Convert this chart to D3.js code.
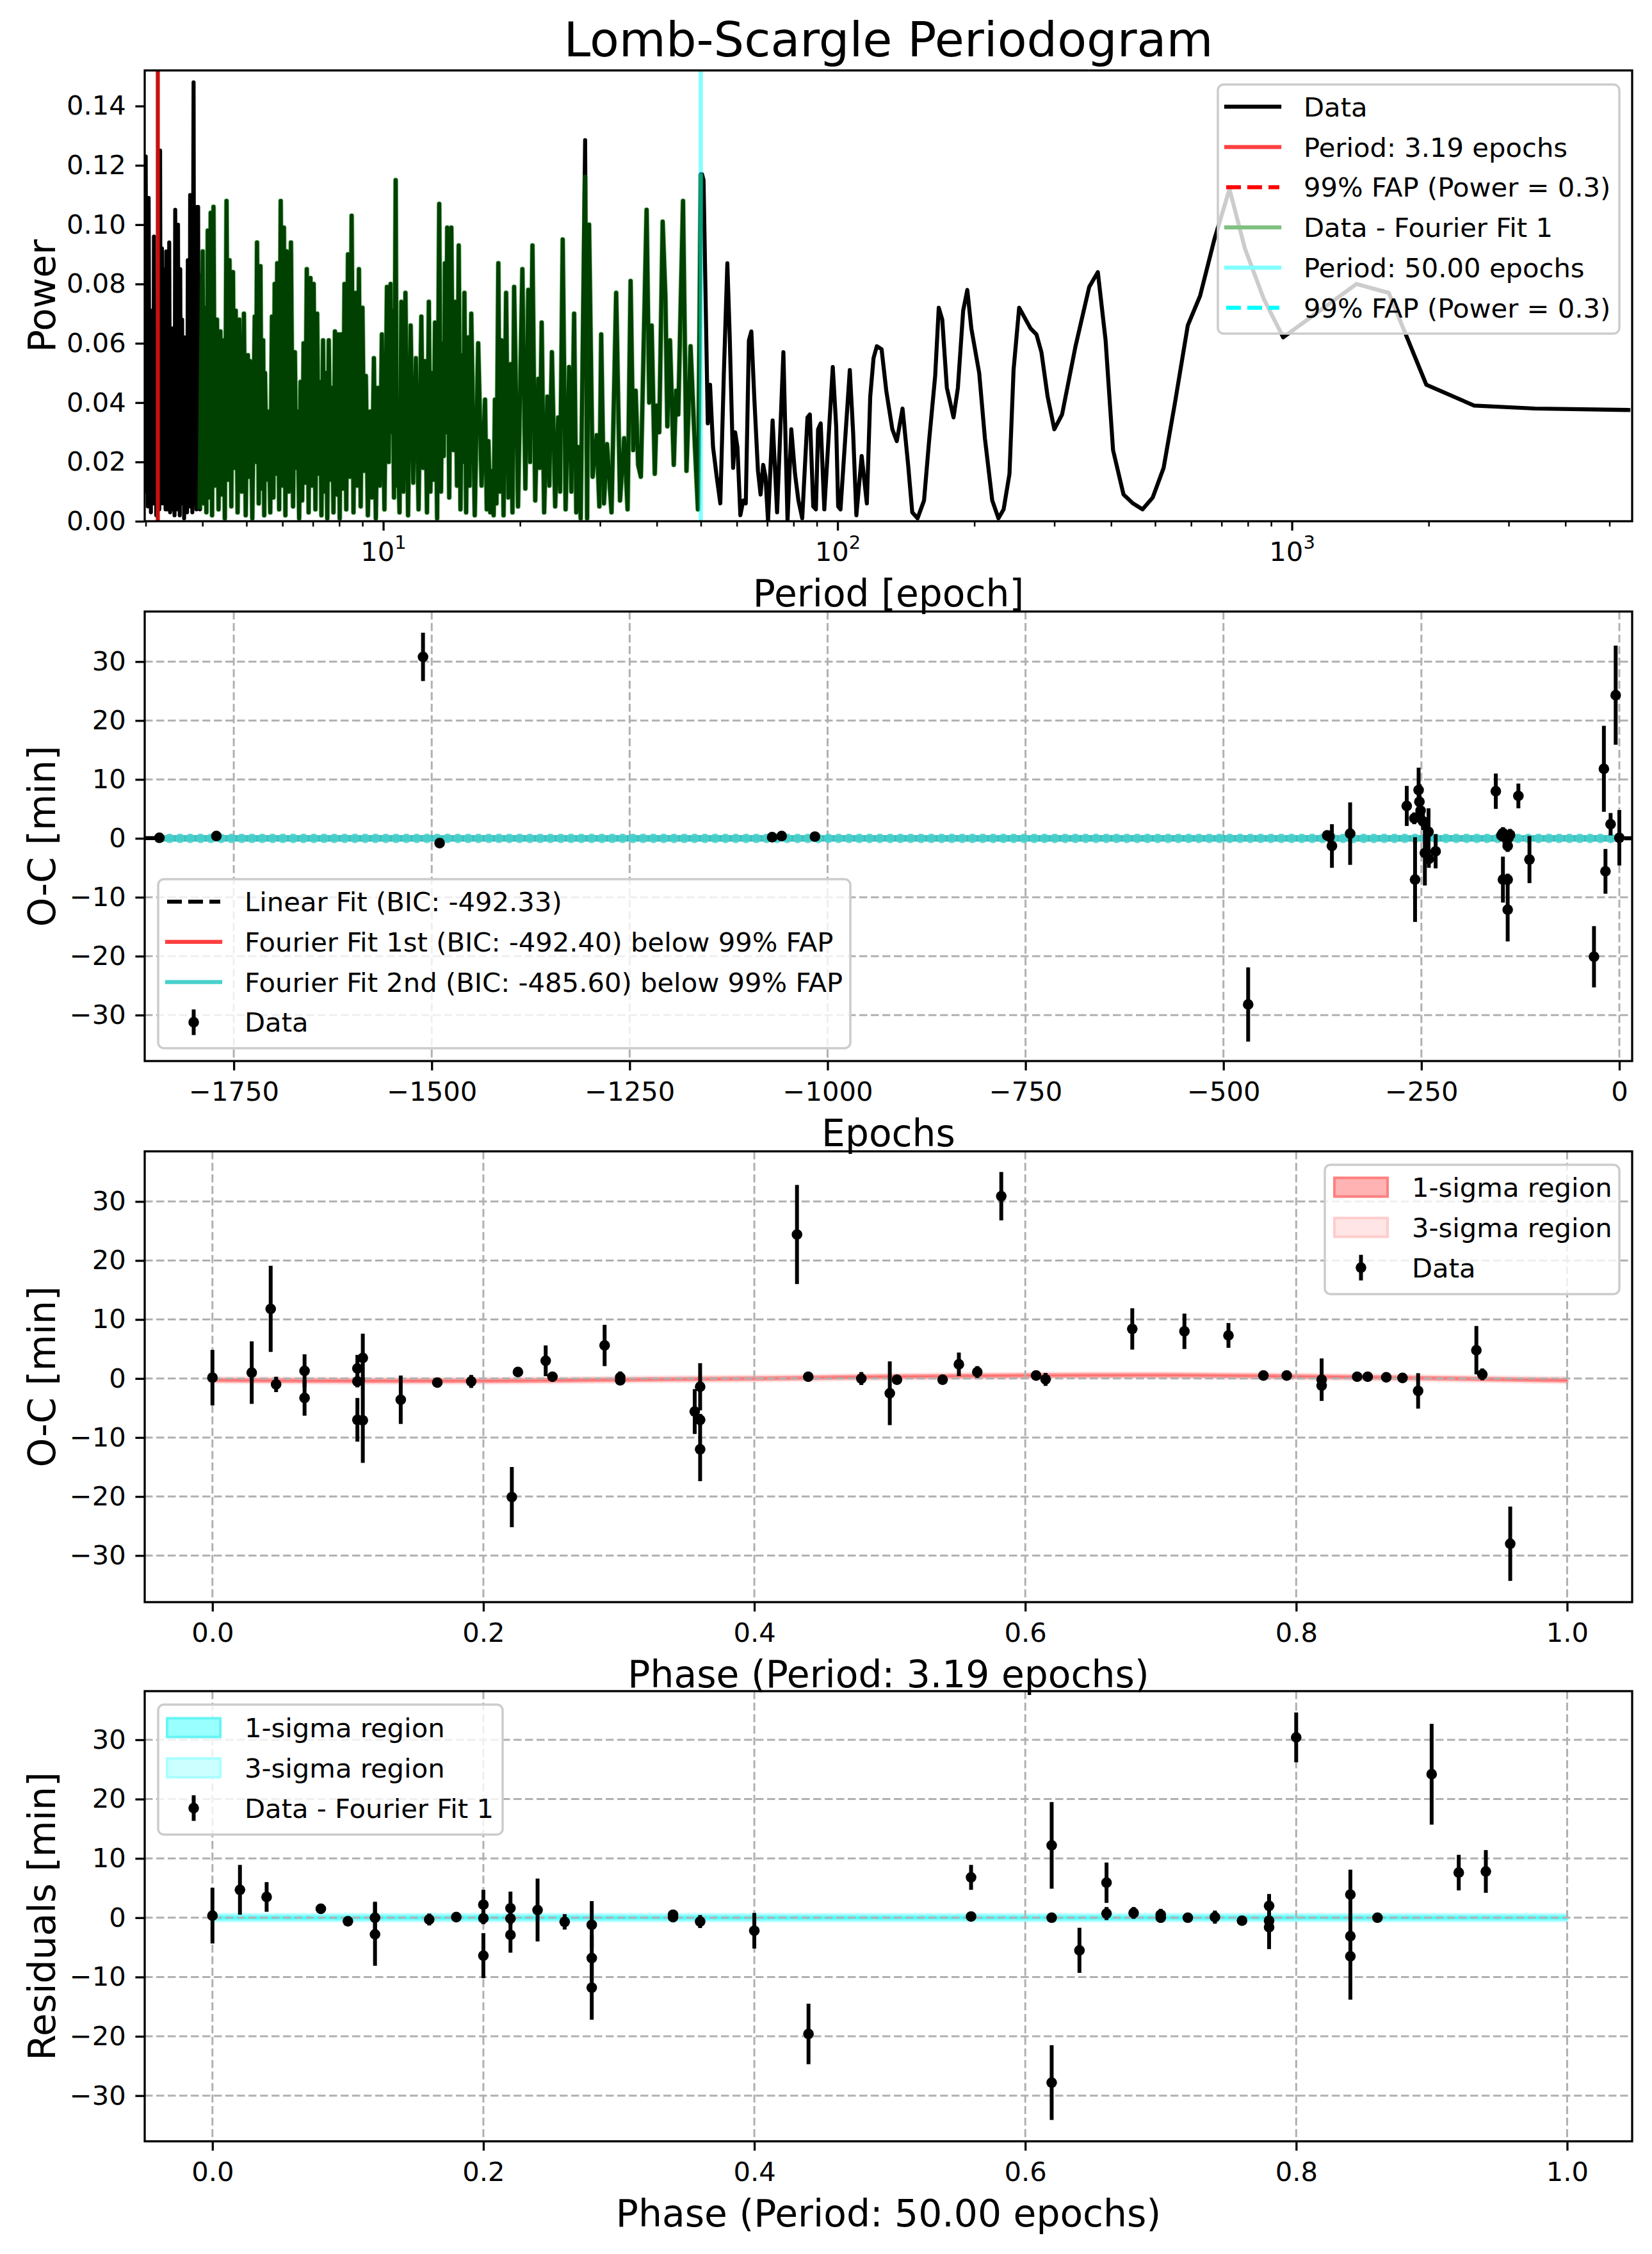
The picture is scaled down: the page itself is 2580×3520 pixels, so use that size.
<!DOCTYPE html>
<html>
<head>
<meta charset="utf-8">
<script src="https://cdn.jsdelivr.net/npm/d3@7"></script>
<style>body{margin:0;background:#fff}</style>
</head>
<body>
<div id="chart"></div>
<script>
// ---------- data ----------

// periodogram of the data, short periods (black only)
const powerLow = [
  [2.985,0.115],[2.992,0.010],[3.00,0.123],[3.012,0.030],[3.022,0.075],[3.033,0.005],[3.045,0.109],
  [3.058,0.020],[3.068,0.060],[3.08,0.003],[3.091,0.071],[3.10,0.030],[3.11,0.064],[3.12,0.006],
  [3.128,0.096],[3.14,0.015],[3.155,0.055],[3.165,0.002],[3.175,0.040],[3.188,0.010],[3.20,0.060],
  [3.213,0.004],[3.227,0.125],[3.24,0.008],[3.258,0.092],[3.272,0.006],[3.287,0.085],[3.298,0.012],
  [3.31,0.070],[3.318,0.004],[3.33,0.091],[3.345,0.004],[3.36,0.060],[3.368,0.010],[3.38,0.094],
  [3.395,0.003],[3.41,0.050],[3.42,0.008],[3.432,0.065],[3.446,0.004],[3.46,0.058],[3.472,0.002],
  [3.484,0.105],[3.497,0.010],[3.51,0.070],[3.52,0.004],[3.534,0.100],[3.545,0.012],[3.556,0.060],
  [3.565,0.002],[3.574,0.085],[3.59,0.006],[3.608,0.068],[3.62,0.020],[3.634,0.058],[3.645,0.001],
  [3.659,0.062],[3.673,0.015],[3.69,0.060],[3.70,0.003],[3.714,0.088],[3.726,0.012],[3.74,0.082],
  [3.748,0.005],[3.758,0.110],[3.772,0.020],[3.785,0.060],[3.80,0.003],[3.824,0.148],[3.838,0.006],
  [3.852,0.070],[3.86,0.010],[3.867,0.106],[3.88,0.004],[3.895,0.075],[3.905,0.008],[3.913,0.106],
  [3.925,0.020],[3.935,0.060],[3.945,0.083]
];

// 3.95 - 50 epochs: data and (data - Fourier fit 1) lie on top of each other here
const powerMid = [
  [3.95,0.004],[4.005,0.091],[4.03,0.006],[4.06,0.072],[4.08,0.003],[4.109,0.098],[4.14,0.008],
  [4.171,0.104],[4.20,0.002],[4.23,0.106],[4.26,0.012],[4.305,0.068],[4.34,0.004],[4.38,0.064],
  [4.41,0.009],[4.446,0.061],[4.48,0.001],[4.519,0.108],[4.55,0.014],[4.588,0.088],[4.63,0.005],
  [4.669,0.084],[4.70,0.018],[4.734,0.071],[4.78,0.003],[4.823,0.068],[4.88,0.010],[4.935,0.070],
  [4.98,0.002],[5.035,0.056],[5.06,0.015],[5.094,0.054],[5.15,0.001],[5.213,0.069],[5.24,0.020],
  [5.274,0.094],[5.32,0.006],[5.367,0.086],[5.40,0.011],[5.441,0.061],[5.47,0.002],[5.492,0.050],
  [5.54,0.014],[5.588,0.037],[5.64,0.003],[5.689,0.069],[5.73,0.008],[5.768,0.080],[5.80,0.016],
  [5.843,0.087],[5.90,0.004],[5.947,0.108],[6.00,0.012],[6.044,0.099],[6.09,0.002],[6.135,0.091],
  [6.20,0.010],[6.264,0.094],[6.33,0.005],[6.39,0.057],[6.43,0.018],[6.479,0.037],[6.53,0.001],
  [6.577,0.047],[6.63,0.007],[6.678,0.060],[6.73,0.013],[6.787,0.085],[6.85,0.003],[6.915,0.082],
  [6.97,0.012],[7.028,0.080],[7.09,0.004],[7.153,0.070],[7.21,0.016],[7.261,0.047],[7.31,0.002],
  [7.37,0.061],[7.42,0.010],[7.472,0.050],[7.53,0.001],[7.588,0.061],[7.65,0.014],[7.712,0.045],
  [7.77,0.003],[7.828,0.064],[7.90,0.009],[7.966,0.063],[8.02,0.001],[8.077,0.063],[8.15,0.011],
  [8.217,0.080],[8.29,0.004],[8.364,0.090],[8.44,0.015],[8.52,0.103],[8.60,0.003],[8.69,0.077],
  [8.76,0.012],[8.84,0.085],[8.92,0.005],[9.00,0.072],[9.08,0.017],[9.156,0.049],[9.25,0.002],
  [9.352,0.037],[9.44,0.008],[9.537,0.055],[9.63,0.001],[9.727,0.045],[9.83,0.012],[9.931,0.063],
  [10.06,0.004],[10.19,0.079],[10.28,0.020],[10.38,0.080],[10.42,0.030],[10.47,0.071],[10.56,0.008],
  [10.65,0.115],[10.71,0.012],[10.77,0.025],[10.86,0.003],[10.96,0.074],[11.08,0.010],[11.19,0.077],
  [11.34,0.002],[11.49,0.066],[11.64,0.013],[11.80,0.055],[11.96,0.004],[12.13,0.069],[12.24,0.018],
  [12.36,0.054],[12.48,0.003],[12.60,0.074],[12.70,0.010],[12.80,0.050],[12.90,0.014],[13.00,0.067],
  [13.14,0.001],[13.28,0.107],[13.40,0.010],[13.51,0.060],[13.59,0.022],[13.67,0.087],[13.75,0.030],
  [13.83,0.099],[13.97,0.008],[14.12,0.099],[14.26,0.024],[14.41,0.074],[14.53,0.012],[14.66,0.093],
  [14.79,0.004],[14.92,0.056],[15.00,0.020],[15.09,0.077],[15.22,0.003],[15.36,0.062],[15.49,0.012],
  [15.62,0.070],[15.90,0.002],[16.18,0.060],[16.46,0.012],[16.75,0.041],[16.90,0.004],[17.04,0.027],
  [17.20,0.003],[17.35,0.017],[17.50,0.002],[17.61,0.041],[17.75,0.006],[17.92,0.087],[18.05,0.010],
  [18.22,0.061],[18.40,0.002],[18.64,0.077],[18.85,0.008],[19.08,0.053],[19.25,0.003],[19.41,0.079],
  [19.80,0.005],[20.24,0.085],[20.55,0.011],[20.86,0.078],[21.05,0.020],[21.30,0.093],[21.60,0.007],
  [21.93,0.048],[22.10,0.018],[22.32,0.067],[22.60,0.003],[22.97,0.042],[23.20,0.012],[23.51,0.057],
  [23.90,0.005],[24.26,0.035],[24.50,0.010],[24.83,0.095],[25.20,0.004],[25.65,0.052],[25.95,0.010],
  [26.31,0.070],[26.60,0.003],[26.87,0.025],[27.20,0.001],[27.82,0.116],[28.10,0.001],[28.38,0.100],
  [28.90,0.015],[29.49,0.029],[29.90,0.005],[30.18,0.063],[30.60,0.006],[31.08,0.026],[31.80,0.003],
  [32.56,0.077],[33.20,0.007],[33.91,0.028],[34.50,0.004],[35.03,0.081],[35.50,0.024],[35.94,0.044],
  [36.40,0.019],[36.90,0.015],[37.99,0.105],[38.50,0.040],[38.97,0.066],[39.60,0.016],[40.00,0.039],
  [40.50,0.030],[41.21,0.101],[41.80,0.075],[42.20,0.032],[42.77,0.061],[43.60,0.019],[44.10,0.044],
  [44.60,0.036],[45.69,0.108],[46.50,0.017],[47.47,0.059],[48.30,0.032],[49.28,0.004],[50.00,0.117]
];

// peaks where the black data curve stands above the residual curve
const dataPeakCaps = [[27.82, 0.1285]];

// long periods (black only)
const powerHigh = [
  [50.31,0.117],[50.7,0.115],[51.8,0.033],[52.4,0.046],[53.2,0.025],[54.2,0.015],[55.2,0.006],
  [56.2,0.050],[57.2,0.087],[57.9,0.062],[58.9,0.018],[59.5,0.030],[60.2,0.025],[61.1,0.002],
  [62.0,0.007],[62.8,0.006],[63.8,0.061],[64.6,0.064],[65.6,0.041],[66.8,0.017],[67.7,0.009],
  [68.6,0.019],[69.4,0.015],[70.3,0.000],[71.95,0.034],[73.6,0.003],[75.99,0.057],[77.6,0.000],
  [79.1,0.031],[80.6,0.016],[82.0,0.007],[83.6,0.001],[85.85,0.035],[86.9,0.036],[88.4,0.005],
  [89.6,0.004],[90.6,0.031],[91.8,0.033],[93.5,0.004],[97.6,0.052],[99.3,0.032],[100.3,0.005],
  [101.5,0.004],[106.4,0.051],[108.2,0.030],[110,0.002],[113,0.022],[116,0.006],[118,0.042],
  [120,0.055],[122,0.059],[125,0.058],[128,0.044],[132,0.031],[135,0.027],[139,0.038],[143,0.019],
  [146,0.003],[150,0.001],[155,0.007],[159,0.027],[164,0.049],[167,0.072],[170,0.068],[174,0.045],
  [180,0.035],[184,0.045],[189,0.071],[193,0.078],[197,0.065],[205,0.050],[211,0.028],[219,0.007],
  [226,0.001],[232,0.004],[239,0.016],[244,0.051],[251,0.072],[266,0.065],[274,0.063],[281,0.057],
  [290,0.042],[300,0.031],[312,0.036],[334,0.059],[358,0.079],[374,0.084],[389,0.061],[404,0.024],
  [426,0.009],[447,0.006],[469,0.004],[494,0.008],[522,0.018],[553,0.040],[590,0.066],[628,0.076],
  [675,0.095],[729,0.112],[788,0.092],[867,0.075],[957,0.062],[1387,0.080],[1634,0.077],
  [1977,0.046],[2518,0.039],[3430,0.038],[5560,0.0375]
];

const bestPeriod1 = 3.19;
const bestPeriod2 = 50.0;
const fapPower = 0.3;

// O-C against epoch: [epoch, O-C min, error min]
const ocByEpoch = [
  [-1844,0.1,0.4],[-1772,0.4,0.5],[-1511,30.8,4.1],[-1490,-0.8,0.6],[-1070,0.2,0.5],
  [-1058,0.4,0.5],[-1016,0.3,0.5],[-468.8,-28.2,6.3],[-369,0.5,0.8],[-366,0.3,1.0],
  [-363,-1.3,3.7],[-340,0.8,5.3],[-268.5,5.5,3.4],[-259,3.4,1.0],[-258,-7.0,7.2],
  [-253.5,8.2,3.8],[-252.5,6.2,3.0],[-251,4.7,2.0],[-248,2.9,1.5],[-245.6,-2.5,5.5],
  [-241,1.1,4.0],[-240.6,-3.5,1.5],[-232,-2.2,2.9],[-156,8.0,3.0],[-149,0.5,1.0],
  [-147,0.9,1.0],[-145,0.2,1.2],[-143,0.4,1.0],[-140,0.1,0.8],[-138,0.6,1.0],
  [-147,-7.0,3.9],[-141,-7.0,1.0],[-141,-12.1,5.4],[-141,-1.3,1.0],[-127.5,7.2,2.1],
  [-113.5,-3.6,4.0],[-32,-20.1,5.2],[-19.5,11.8,7.3],[-17.5,-5.6,3.8],[-11,2.4,1.9],
  [-4.6,24.3,8.4],[0,0.1,4.7]
];
const linearFitEpochs = [-1862, 16];
const linearFitOC = [0.05, 0.0];
const fourierFitEpochs = [-1844, 0];
const fourierFitOC = [0.0, 0.0];

// O-C folded on 3.19 epochs: [phase, O-C, error]
const ocByPhase1 = [
  [0.000,0.15,4.7],[0.029,1.0,5.3],[0.043,11.8,7.3],[0.047,-1.0,1.3],[0.068,1.3,2.8],
  [0.068,-3.3,3.0],[0.107,1.7,2.3],[0.107,-0.5,1.0],[0.107,-7.0,3.7],[0.111,3.5,4.1],
  [0.111,-7.1,7.2],[0.139,-3.6,4.1],[0.166,-0.7,0.6],[0.191,-0.5,1.1],[0.221,-20.1,5.1],
  [0.2255,1.1,0.8],[0.246,3.0,2.6],[0.251,0.3,0.8],[0.2895,5.6,3.5],[0.301,0.2,1.0],
  [0.301,-0.3,0.8],[0.356,-5.6,3.8],[0.360,-1.4,4.0],[0.360,-7.0,1.0],[0.360,-12.0,5.4],
  [0.4315,24.4,8.4],[0.4398,0.3,0.5],[0.479,0.0,1.1],[0.500,-2.5,5.4],[0.5053,-0.2,0.5],
  [0.539,-0.2,0.5],[0.551,2.4,2.0],[0.5646,1.1,1.0],[0.5823,30.9,4.1],[0.608,0.5,0.5],
  [0.615,-0.15,1.1],[0.679,8.4,3.5],[0.7175,8.0,3.0],[0.750,7.3,2.1],[0.7758,0.5,0.5],
  [0.793,0.5,0.5],[0.8188,-0.2,3.6],[0.8188,-1.2,1.0],[0.845,0.3,0.5],[0.8528,0.3,0.5],
  [0.8665,0.2,0.5],[0.8785,0.1,0.5],[0.890,-2.1,3.0],[0.933,4.8,4.1],[0.9374,0.7,1.0],
  [0.958,-28.0,6.3]
];
const fit1Phase = [0, 0.1, 0.2, 0.3, 0.4, 0.5, 0.6, 0.7, 0.8, 0.9, 1.0];
const fit1OC = [-0.25, -0.4, -0.4, -0.2, 0.0, 0.3, 0.5, 0.55, 0.35, 0.05, -0.3];
const fit1Sigma = 0.15;

// residuals folded on 50 epochs: [phase, residual, error]
const residByPhase2 = [
  [0.000,0.35,4.7],[0.0203,4.7,4.2],[0.040,3.5,2.5],[0.080,1.5,0.8],[0.100,-0.6,0.7],
  [0.120,0.0,2.7],[0.120,-2.8,5.3],[0.160,-0.3,1.0],[0.180,0.1,0.7],[0.200,2.2,2.5],
  [0.200,-0.1,1.0],[0.200,-6.4,3.8],[0.220,1.6,2.8],[0.220,-0.15,1.0],[0.220,-2.9,3.0],
  [0.240,1.3,5.3],[0.260,-0.7,1.3],[0.280,-1.2,4.0],[0.280,-6.8,3.8],[0.280,-11.8,5.4],
  [0.340,0.5,0.8],[0.340,0.1,0.8],[0.360,-0.65,1.1],[0.400,-2.2,3.0],[0.440,-19.6,5.1],
  [0.560,6.8,2.1],[0.560,0.2,0.5],[0.6195,12.2,7.3],[0.6195,0.0,0.5],[0.6195,-27.8,6.3],
  [0.640,-5.5,3.8],[0.660,5.9,3.4],[0.660,0.7,1.1],[0.680,0.8,1.0],[0.700,0.5,1.0],
  [0.700,0.0,0.8],[0.720,0.0,0.5],[0.740,0.1,1.1],[0.760,-0.5,0.5],[0.780,2.0,2.0],
  [0.780,-0.5,1.0],[0.780,-1.6,3.7],[0.800,30.4,4.2],[0.840,3.9,4.2],[0.840,-3.1,1.0],
  [0.840,-6.5,7.3],[0.860,0.0,0.5],[0.900,24.2,8.5],[0.920,7.6,3.0],[0.940,7.8,3.6]
];
const fit2Phase = [0, 1.0];
const fit2Resid = [0.0, 0.0];
const fit2Sigma = 0.2;

// ---------- layout ----------
const W = 2580, H = 3520;
const axL = 226, axR = 2549;
const FONT = "DejaVu Sans";
const tickFs = 41.7, labelFs = 58.3, titleFs = 75, legendFs = 41.7;
const LW = 6.25;

const svg = d3.select("#chart").append("svg")
  .attr("width", W).attr("height", H)
  .attr("viewBox", `0 0 ${W} ${H}`);
svg.append("rect").attr("width", W).attr("height", H).attr("fill", "#fff");

let clipCount = 0;
function makePanel(cfg) {
  const id = "clip" + (clipCount++);
  svg.append("clipPath").attr("id", id).append("rect")
    .attr("x", axL).attr("y", cfg.top).attr("width", axR - axL).attr("height", cfg.bottom - cfg.top);
  const x = cfg.x.range([axL, axR]);
  const y = d3.scaleLinear().domain(cfg.yDomain).range([cfg.bottom, cfg.top]);
  const g = svg.append("g");
  return {
    cfg, x, y, g,
    under: g.append("g").attr("clip-path", `url(#${id})`),
    grid: g.append("g").attr("clip-path", `url(#${id})`),
    plot: g.append("g").attr("clip-path", `url(#${id})`),
    over: g.append("g")
  };
}

function styleAxis(a, width) {
  a.select(".domain").remove();
  a.selectAll(".tick line").attr("stroke", "#000").attr("stroke-width", width);
  a.selectAll(".tick text").attr("font-family", FONT).attr("font-size", tickFs).attr("fill", "#000");
}

function drawAxes(p, xTicks, xFmt, yTicks, yFmt, withGrid) {
  const { cfg, x, y } = p;
  if (withGrid) {
    p.grid.selectAll("line.gx").data(xTicks).join("line")
      .attr("x1", d => x(d)).attr("x2", d => x(d)).attr("y1", cfg.top).attr("y2", cfg.bottom)
      .attr("stroke", "#b0b0b0").attr("stroke-width", 3).attr("stroke-dasharray", "12.5,5.5");
    p.grid.selectAll("line.gy").data(yTicks).join("line")
      .attr("y1", d => y(d)).attr("y2", d => y(d)).attr("x1", axL).attr("x2", axR)
      .attr("stroke", "#b0b0b0").attr("stroke-width", 3).attr("stroke-dasharray", "12.5,5.5");
  }
  const xa = p.over.append("g").attr("transform", `translate(0,${cfg.bottom})`)
    .call(d3.axisBottom(x).tickValues(xTicks).tickFormat(xFmt).tickSize(14.6).tickPadding(17.5));
  styleAxis(xa, 3.3);
  const ya = p.over.append("g").attr("transform", `translate(${axL},0)`)
    .call(d3.axisLeft(y).tickValues(yTicks).tickFormat(yFmt).tickSize(14.6).tickPadding(14.6));
  styleAxis(ya, 3.3);
  p.over.append("rect").attr("x", axL).attr("y", cfg.top)
    .attr("width", axR - axL).attr("height", cfg.bottom - cfg.top)
    .attr("fill", "none").attr("stroke", "#000").attr("stroke-width", 3.3);
  return xa;
}

function axisLabels(p, xLabel, yLabel) {
  const { cfg } = p;
  p.over.append("text").attr("x", (axL + axR) / 2).attr("y", cfg.bottom + 133)
    .attr("text-anchor", "middle").attr("font-family", FONT).attr("font-size", labelFs).text(xLabel);
  p.over.append("text")
    .attr("transform", `translate(86,${(cfg.top + cfg.bottom) / 2}) rotate(-90)`)
    .attr("text-anchor", "middle").attr("font-family", FONT).attr("font-size", labelFs).text(yLabel);
}

function errorBars(p, data) {
  const sel = p.plot.append("g");
  sel.selectAll("line").data(data).join("line")
    .attr("x1", d => p.x(d[0])).attr("x2", d => p.x(d[0]))
    .attr("y1", d => p.y(d[1] - d[2])).attr("y2", d => p.y(d[1] + d[2]))
    .attr("stroke", "#000").attr("stroke-width", 6);
  sel.selectAll("circle").data(data).join("circle")
    .attr("cx", d => p.x(d[0])).attr("cy", d => p.y(d[1])).attr("r", 8.3).attr("fill", "#000");
}

function drawLegend(p, box, firstRow, hx, rows) {
  const g = p.over.append("g");
  g.append("rect").attr("x", box[0]).attr("y", box[1])
    .attr("width", box[2] - box[0]).attr("height", box[3] - box[1]).attr("rx", 9)
    .attr("fill", "#fff").attr("fill-opacity", 0.8).attr("stroke", "#cccccc").attr("stroke-width", 3.5);
  rows.forEach((r, i) => {
    const cy = firstRow + i * 62.8;
    if (r.type === "line") {
      g.append("line").attr("x1", hx).attr("x2", hx + 83).attr("y1", cy).attr("y2", cy)
        .attr("stroke", r.color).attr("stroke-width", LW)
        .attr("stroke-dasharray", r.dash || null).attr("stroke-linecap", r.dash ? "butt" : "square");
    } else if (r.type === "patch") {
      g.append("rect").attr("x", hx).attr("y", cy - 14.6).attr("width", 83).attr("height", 29.2)
        .attr("fill", r.fill).attr("stroke", r.stroke).attr("stroke-width", 4);
    } else {
      g.append("line").attr("x1", hx + 41.5).attr("x2", hx + 41.5).attr("y1", cy - 20).attr("y2", cy + 20)
        .attr("stroke", "#000").attr("stroke-width", 6);
      g.append("circle").attr("cx", hx + 41.5).attr("cy", cy).attr("r", 8.3).attr("fill", "#000");
    }
    g.append("text").attr("x", hx + 121).attr("y", cy + 15)
      .attr("font-family", FONT).attr("font-size", legendFs).text(r.label);
  });
}

const minusFmt = d => (d < 0 ? "\u2212" + Math.abs(d) : String(d));

// ---------- panel 1: periodogram ----------
svg.append("text").attr("x", (axL + axR) / 2).attr("y", 88).attr("text-anchor", "middle")
  .attr("font-family", FONT).attr("font-size", titleFs).text("Lomb-Scargle Periodogram");

const p1 = makePanel({ top: 110, bottom: 814, x: d3.scaleLog().domain([2.985, 5610]), yDomain: [0, 0.152] });

const capMap = new Map(dataPeakCaps.map(d => [d[0], d[1]]));
const dataPower = powerLow.concat(powerMid.map(d => [d[0], capMap.has(d[0]) ? capMap.get(d[0]) : d[1]]), powerHigh);
const residPower = powerMid;

const pgLine = d3.line().x(d => p1.x(d[0])).y(d => p1.y(d[1]));
p1.plot.append("path").datum(dataPower).attr("d", pgLine)
  .attr("fill", "none").attr("stroke", "#000").attr("stroke-width", LW).attr("stroke-linejoin", "round");
p1.plot.append("line").attr("x1", p1.x(bestPeriod1)).attr("x2", p1.x(bestPeriod1))
  .attr("y1", p1.cfg.top).attr("y2", p1.cfg.bottom).attr("stroke", "#c81010").attr("stroke-width", LW);
p1.plot.append("line").attr("x1", axL).attr("x2", axR).attr("y1", p1.y(fapPower)).attr("y2", p1.y(fapPower))
  .attr("stroke", "red").attr("stroke-width", LW).attr("stroke-dasharray", "23,10");
p1.plot.append("path").datum(residPower).attr("d", pgLine)
  .attr("fill", "none").attr("stroke", "green").attr("stroke-opacity", 0.5)
  .attr("stroke-width", 8).attr("stroke-linejoin", "round");
p1.plot.append("line").attr("x1", p1.x(bestPeriod2)).attr("x2", p1.x(bestPeriod2))
  .attr("y1", p1.cfg.top).attr("y2", p1.cfg.bottom).attr("stroke", "cyan").attr("stroke-opacity", 0.5)
  .attr("stroke-width", LW);

const majorPeriods = [10, 100, 1000];
const minorPeriods = [];
[1, 10, 100, 1000].forEach(dec => {
  for (let k = 2; k <= 9; k++) {
    const v = k * dec;
    if (v > 2.985 && v < 5610) minorPeriods.push(v);
  }
});
const xa1 = drawAxes(p1, majorPeriods, () => "10", d3.range(0, 0.141, 0.02), d3.format(".2f"), false);
xa1.selectAll(".tick text").each(function (d) {
  d3.select(this).append("tspan").attr("dy", -19).attr("font-size", 29).text(Math.round(Math.log10(d)));
});
const minorAx = p1.over.append("g").attr("transform", `translate(0,${p1.cfg.bottom})`)
  .call(d3.axisBottom(p1.x).tickValues(minorPeriods).tickFormat("").tickSize(8.3));
styleAxis(minorAx, 2.5);
axisLabels(p1, "Period [epoch]", "Power");

drawLegend(p1, [1902, 132, 2529, 521], 166.7, 1915, [
  { type: "line", color: "#000", label: "Data" },
  { type: "line", color: "#ff4040", label: "Period: 3.19 epochs" },
  { type: "line", color: "#ff0000", dash: "23,10", label: "99% FAP (Power = 0.3)" },
  { type: "line", color: "#80c080", label: "Data - Fourier Fit 1" },
  { type: "line", color: "#80ffff", label: "Period: 50.00 epochs" },
  { type: "line", color: "#00ffff", dash: "23,10", label: "99% FAP (Power = 0.3)" }
]);

// ---------- panel 2: O-C against epoch ----------
const p2 = makePanel({ top: 955, bottom: 1657, x: d3.scaleLinear().domain([-1862.5, 16.2]), yDomain: [-37.8, 38.5] });
const ocTicks = d3.range(-30, 31, 10);
drawAxes(p2, d3.range(-1750, 1, 250), minusFmt, ocTicks, minusFmt, true);

const fitLine2 = d3.line().x(d => p2.x(d[0])).y(d => p2.y(d[1]));
p2.plot.append("path").datum(linearFitEpochs.map((e, i) => [e, linearFitOC[i]])).attr("d", fitLine2)
  .attr("fill", "none").attr("stroke", "#000").attr("stroke-width", LW).attr("stroke-dasharray", "23,10");
p2.plot.append("path").datum(fourierFitEpochs.map((e, i) => [e, fourierFitOC[i]])).attr("d", fitLine2)
  .attr("fill", "none").attr("stroke", "#ff4040").attr("stroke-width", LW);
// second Fourier fit: drawn with its evaluation points, giving the beaded band
const fit2Samples = d3.range(fourierFitEpochs[0], fourierFitEpochs[1] + 1, 13);
p2.plot.append("path").datum(fourierFitEpochs.map((e, i) => [e, fourierFitOC[i]])).attr("d", fitLine2)
  .attr("fill", "none").attr("stroke", "#3cb8b8").attr("stroke-width", 10);
p2.plot.append("g").selectAll("circle").data(fit2Samples).join("circle")
  .attr("cx", d => p2.x(d)).attr("cy", p2.y(0)).attr("r", 7.5)
  .attr("fill", "#48d1cc").attr("fill-opacity", 0.85);
errorBars(p2, ocByEpoch);
axisLabels(p2, "Epochs", "O-C [min]");
drawLegend(p2, [247, 1373, 1328, 1637], 1408, 261, [
  { type: "line", color: "#000", dash: "23,10", label: "Linear Fit (BIC: -492.33)" },
  { type: "line", color: "#ff4040", label: "Fourier Fit 1st (BIC: -492.40) below 99% FAP" },
  { type: "line", color: "#48d1cc", label: "Fourier Fit 2nd (BIC: -485.60) below 99% FAP" },
  { type: "err", label: "Data" }
]);

// ---------- panel 3: phase on 3.19 epochs ----------
const phaseTicks = [0, 0.2, 0.4, 0.6, 0.8, 1.0];
const p3 = makePanel({ top: 1798, bottom: 2502, x: d3.scaleLinear().domain([-0.05, 1.048]), yDomain: [-37.9, 38.5] });
function band(p, xs, ys, half, color, alpha) {
  const area = d3.area().curve(d3.curveMonotoneX).x(d => p.x(d[0]))
    .y0(d => p.y(d[1] - half)).y1(d => p.y(d[1] + half));
  p.under.append("path").datum(xs.map((v, i) => [v, ys[i]])).attr("d", area)
    .attr("fill", color).attr("fill-opacity", alpha)
    .attr("stroke", color).attr("stroke-opacity", alpha).attr("stroke-width", 4);
}
band(p3, fit1Phase, fit1OC, 3 * fit1Sigma, "red", 0.1);
band(p3, fit1Phase, fit1OC, fit1Sigma, "red", 0.3);
drawAxes(p3, phaseTicks, d3.format(".1f"), ocTicks, minusFmt, true);
errorBars(p3, ocByPhase1);
axisLabels(p3, "Phase (Period: 3.19 epochs)", "O-C [min]");
drawLegend(p3, [2069, 1819, 2529, 2021], 1854, 2084, [
  { type: "patch", fill: "#ffb3b3", stroke: "#ff8080", label: "1-sigma region" },
  { type: "patch", fill: "#ffe5e5", stroke: "#ffcccc", label: "3-sigma region" },
  { type: "err", label: "Data" }
]);

// ---------- panel 4: residuals on 50 epochs ----------
const p4 = makePanel({ top: 2641, bottom: 3344, x: d3.scaleLinear().domain([-0.05, 1.048]), yDomain: [-37.7, 38.2] });
band(p4, fit2Phase, fit2Resid, 3 * fit2Sigma, "cyan", 0.2);
band(p4, fit2Phase, fit2Resid, fit2Sigma, "cyan", 0.4);
drawAxes(p4, phaseTicks, d3.format(".1f"), ocTicks, minusFmt, true);
errorBars(p4, residByPhase2);
axisLabels(p4, "Phase (Period: 50.00 epochs)", "Residuals [min]");
drawLegend(p4, [247, 2662, 785, 2865], 2698, 261, [
  { type: "patch", fill: "#99ffff", stroke: "#66f5f5", label: "1-sigma region" },
  { type: "patch", fill: "#ccffff", stroke: "#a8ffff", label: "3-sigma region" },
  { type: "err", label: "Data - Fourier Fit 1" }
]);
</script>
</body>
</html>
